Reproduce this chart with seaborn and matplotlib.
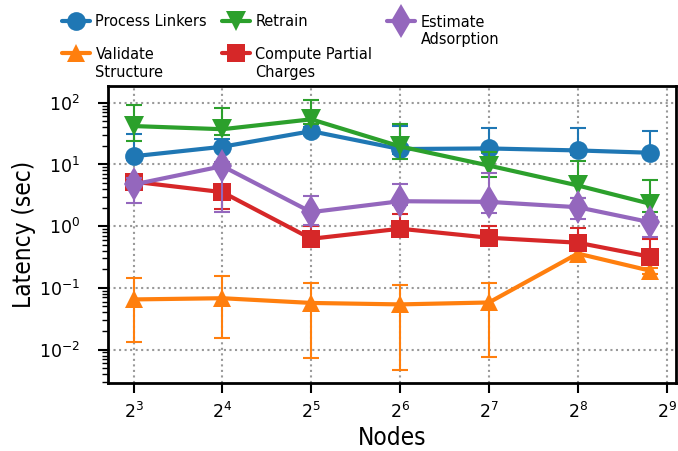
import numpy as np
import pandas as pd
import matplotlib
matplotlib.use("Agg")
import matplotlib.pyplot as plt
from matplotlib import font_manager
import seaborn as sns

# Node counts on the x axis
nodes = [8, 16, 32, 64, 128, 256, 450]

# Mean latency (sec) per task, with lower / upper error bounds
process_linkers = [13.6, 19.4, 34.7, 17.8, 18.2, 16.9, 15.5]
process_linkers_lo = [12.0, 17.0, 30.0, 15.0, 15.5, 14.5, 13.5]
process_linkers_hi = [31.4, 26.0, 40.0, 42.0, 39.4, 38.5, 34.7]

validate_structure = [0.065, 0.068, 0.057, 0.054, 0.058, 0.36, 0.19]
validate_structure_lo = [0.0134, 0.0153, 0.0074, 0.00475, 0.0075, 0.33, 0.17]
validate_structure_hi = [0.142, 0.155, 0.118, 0.113, 0.118, 0.40, 0.21]

retrain = [42.0, 37.3, 54.0, 19.6, 9.6, 4.57, 2.31]
retrain_lo = [23.9, 30.0, 45.0, 12.1, 6.3, 2.88, 1.69]
retrain_hi = [91.0, 83.0, 113.0, 45.7, 16.0, 11.6, 5.7]

compute_charges = [5.27, 3.56, 0.625, 0.91, 0.65, 0.54, 0.32]
compute_charges_lo = [4.6, 1.91, 0.55, 0.8, 0.58, 0.48, 0.28]
compute_charges_hi = [6.0, 4.2, 1.0, 1.55, 1.0, 0.94, 0.62]

estimate_adsorption = [4.74, 9.4, 1.69, 2.54, 2.48, 2.03, 1.16]
estimate_adsorption_lo = [2.4, 1.71, 1.05, 2.2, 1.65, 1.29, 0.68]
estimate_adsorption_hi = [6.0, 11.0, 3.06, 4.74, 7.3, 2.9, 1.4]

labels = ["Process Linkers", "Validate\nStructure", "Retrain",
          "Compute Partial\nCharges", "Estimate\nAdsorption"]
means = [process_linkers, validate_structure, retrain,
         compute_charges, estimate_adsorption]
lows = [process_linkers_lo, validate_structure_lo, retrain_lo,
        compute_charges_lo, estimate_adsorption_lo]
highs = [process_linkers_hi, validate_structure_hi, retrain_hi,
         compute_charges_hi, estimate_adsorption_hi]
markers = ["o", "^", "v", "s", "d"]
colors = ["#1f77b4", "#ff7f0e", "#2ca02c", "#d62728", "#9467bd"]
sizes = [13.5, 13, 14, 13, 17]

sns.set_style("ticks")
plt.rcParams["font.family"] = ["DejaVu Sans"]
plt.rcParams["mathtext.fontset"] = "dejavusans"
for key in ["text.color", "axes.labelcolor", "xtick.color", "ytick.color"]:
    plt.rcParams[key] = "black"

# narrow face for labels and legend entries
label_font = font_manager.FontProperties(family="DejaVu Sans", stretch="condensed", size=17.5)
legend_font = font_manager.FontProperties(family="DejaVu Sans", stretch="condensed", size=11.6)

fig = plt.figure(figsize=(6.78, 4.51), dpi=100)
ax = fig.add_axes([0.159, 0.151, 0.838, 0.658])
ax.set_xscale("log", base=2)
ax.set_yscale("log")

for lab, m, lo, hi, mk, c, ms in zip(labels, means, lows, highs, markers, colors, sizes):
    df = pd.DataFrame({"Nodes": nodes, "Latency": m})
    sns.lineplot(data=df, x="Nodes", y="Latency", ax=ax, color=c, marker=mk,
                 markersize=ms, markeredgewidth=0, linewidth=3, label=lab)
    m_arr = np.array(m)
    yerr = np.vstack([m_arr - np.array(lo), np.array(hi) - m_arr])
    ax.errorbar(nodes, m_arr, yerr=yerr, fmt="none", ecolor=c,
                elinewidth=1.5, capsize=5.5, capthick=1.5)

ax.set_xlim(2 ** 2.71, 2 ** 9.105)
ax.set_ylim(10 ** -2.54, 10 ** 2.27)
ax.grid(True, which="major", linestyle=":", color="#999999", linewidth=1.5)
ax.set_xticks([8, 16, 32, 64, 128, 256, 512])
ax.set_xlabel("Nodes", fontproperties=label_font, labelpad=3)
ax.set_ylabel("Latency (sec)", fontproperties=label_font, labelpad=2)
ax.tick_params(axis="both", which="major", labelsize=12.5, length=7, width=1.5)
ax.tick_params(axis="x", which="major", pad=6.5)
ax.tick_params(axis="y", which="major", pad=13)
ax.tick_params(axis="y", which="minor", length=4.5, width=1)
ax.tick_params(axis="x", which="minor", length=0)
for s in ax.spines.values():
    s.set_linewidth(2)
    s.set_color("black")

leg = ax.legend(loc="upper left", bbox_to_anchor=(0.085, 1.0), bbox_transform=fig.transFigure,
                ncol=3, frameon=False, prop=legend_font, handlelength=1.75,
                columnspacing=0.9, labelspacing=0.45, handletextpad=0.35,
                borderaxespad=0.0, borderpad=0.25)

# keep each legend handle level with the first line of its label
fig.canvas.draw()
single_h = min(t.get_window_extent().height for t in leg.get_texts())
for t in leg.get_texts():
    h = t.get_window_extent().height
    if h > 1.5 * single_h:
        t.set_position((0, -(h - single_h) / 2 - 2))

fig.savefig("out.png", dpi=100)
